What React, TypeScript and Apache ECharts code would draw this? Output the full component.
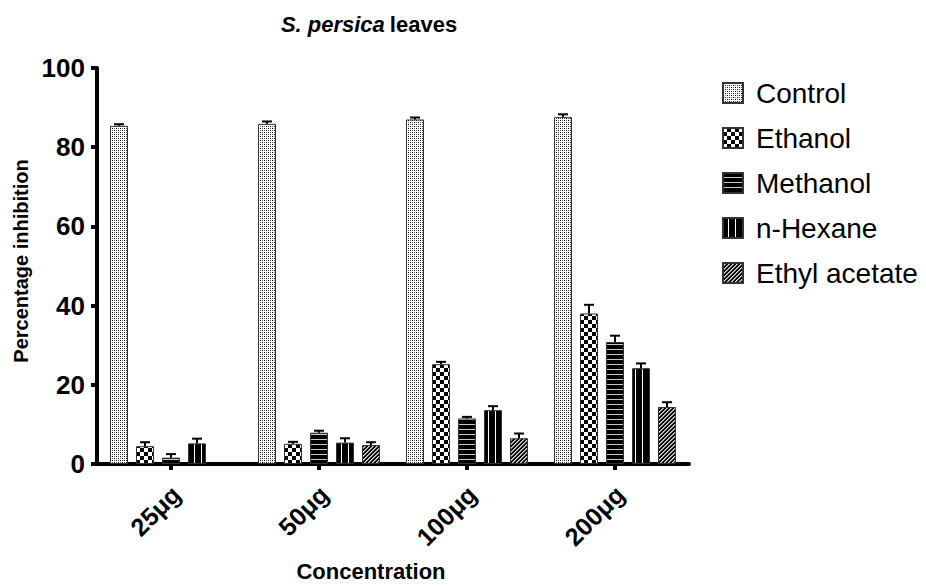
import React, { useEffect, useRef } from "react";
import * as echarts from "echarts";

const categories = ["25μg", "50μg", "100μg", "200μg"];
const seriesNames = ["Control", "Ethanol", "Methanol", "n-Hexane", "Ethyl acetate"];

const controlValues = [85.4, 85.9, 87.0, 87.6];
const controlErr = [0.4, 0.6, 0.5, 0.7];
const ethanolValues = [4.5, 5.1, 25.2, 38.0];
const ethanolErr = [1.0, 0.5, 0.6, 2.2];
const methanolValues = [1.6, 7.9, 11.5, 30.8];
const methanolErr = [0.9, 0.5, 0.4, 1.6];
const hexaneValues = [5.2, 5.4, 13.6, 24.2];
const hexaneErr = [1.2, 1.1, 1.0, 1.2];
const ethylValues: (number | null)[] = [null, 4.8, 6.5, 14.4];
const ethylErr: (number | null)[] = [null, 0.7, 1.2, 1.2];

const yMin = 0;
const yMax = 100;
const yInterval = 20;

const allValues = [controlValues, ethanolValues, methanolValues, hexaneValues, ethylValues];
const allErr = [controlErr, ethanolErr, methanolErr, hexaneErr, ethylErr];

const FONT = '"Liberation Sans", Arial, Helvetica, sans-serif';
const BAR_W = 18;
const BAR_STEP = 26;

type PixFn = (x: number, y: number) => string;

function makeTile(w: number, h: number, fn: PixFn) {
  const c = document.createElement("canvas");
  c.width = w;
  c.height = h;
  const ctx = c.getContext("2d")!;
  for (let y = 0; y < h; y++) {
    for (let x = 0; x < w; x++) {
      ctx.fillStyle = fn(x, y);
      ctx.fillRect(x, y, 1, 1);
    }
  }
  return c;
}

function makeTiles() {
  return [
    // Control: fine stipple
    makeTile(4, 4, (x, y) =>
      (x === 0 && y === 0) || (x === 2 && y === 2) ? "#000" : (x === 2 && y === 0) || (x === 0 && y === 2) ? "#666" : "#fff"
    ),
    // Ethanol: checkerboard
    makeTile(8, 8, (x, y) => (((x >> 2) + (y >> 2)) % 2 === 0 ? "#fff" : "#000")),
    // Methanol: horizontal lines
    makeTile(1, 5, (x, y) => (y === 4 ? "#c8c8c8" : "#000")),
    // n-Hexane: vertical white lines
    makeTile(7, 1, (x) => (x === 5 ? "#fff" : "#000")),
    // Ethyl acetate: diagonal hatch
    makeTile(4, 4, (x, y) => {
      const d = (x + y) % 4;
      return d === 0 || d === 1 ? "#000" : d === 2 ? "#e0e0e0" : "#8a8a8a";
    }),
  ];
}

function pattern(tile: HTMLCanvasElement, x: number, y: number) {
  return {
    image: tile,
    repeat: "repeat",
    imageWidth: tile.width,
    imageHeight: tile.height,
    x,
    y,
  } as any;
}

function buildOption(tiles: HTMLCanvasElement[], barLefts: number[][] | null) {
  const barSeries = seriesNames.map((name, si) => ({
    name,
    type: "bar",
    barWidth: BAR_W,
    barGap: ((BAR_STEP - BAR_W) / BAR_W) * 100 + "%",
    itemStyle: {
      color: pattern(tiles[si], 0, 0),
      borderColor: "#333",
      borderWidth: 1,
    },
    data: allValues[si].map((v, k) =>
      v == null
        ? "-"
        : {
            value: v,
            itemStyle: barLefts ? { color: pattern(tiles[si], barLefts[si][k], 0) } : undefined,
          }
    ),
    z: 2,
  }));

  const errSeries = seriesNames.map((name, si) => ({
    name: "err-" + name,
    type: "custom",
    z: 3,
    renderItem: (params: any, api: any) => {
      const idx = api.value(0);
      const v = api.value(1);
      const e = api.value(2);
      const p0 = api.coord([idx, v]);
      const p1 = api.coord([idx, v + e]);
      const x = Math.round(p0[0]) + (si - 2) * BAR_STEP;
      return {
        type: "group",
        children: [
          { type: "line", shape: { x1: x, y1: p0[1], x2: x, y2: p1[1] }, style: { stroke: "#000", lineWidth: 2 } },
          { type: "line", shape: { x1: x - 5, y1: p1[1], x2: x + 5, y2: p1[1] }, style: { stroke: "#000", lineWidth: 2 } },
        ],
      };
    },
    data: allValues[si]
      .map((v, k) => (v == null ? null : [k, v, allErr[si][k] as number]))
      .filter((d) => d != null),
  }));

  return {
    animation: false,
    backgroundColor: "#fff",
    textStyle: { fontFamily: FONT, color: "#000" },
    title: [
      {
        text: "{i|S. persica} {b|leaves}",
        left: 364,
        top: 8,
        textAlign: "center",
        textStyle: {
          rich: {
            i: { fontFamily: FONT, fontSize: 22, fontWeight: "bold", fontStyle: "italic", color: "#000" },
            b: { fontFamily: FONT, fontSize: 22, fontWeight: "bold", color: "#000" },
          },
        },
      },
      {
        text: "Concentration",
        left: 366,
        top: 555,
        textAlign: "center",
        textStyle: { fontFamily: FONT, fontSize: 22, fontWeight: "bold", color: "#000" },
      },
    ],
    legend: {
      data: seriesNames,
      orient: "vertical",
      left: 717,
      top: 74,
      itemWidth: 20,
      itemHeight: 20,
      itemGap: 17,
      icon: "rect",
      selectedMode: false,
      textStyle: { fontFamily: FONT, fontSize: 28, lineHeight: 28, color: "#000", padding: [0, 0, 0, 8] },
    },
    grid: { left: 97, right: 237, top: 68, bottom: 122, containLabel: false },
    xAxis: {
      type: "category",
      data: categories,
      axisLine: { show: true, lineStyle: { color: "#000", width: 4 } },
      axisTick: { show: true, alignWithLabel: true, length: 6, lineStyle: { color: "#000", width: 4 } },
      axisLabel: {
        rotate: 45,
        margin: 31,
        padding: [0, -7, 0, 0],
        fontFamily: FONT,
        fontSize: 25,
        fontWeight: "bold",
        color: "#000",
      },
      splitLine: { show: false },
    },
    yAxis: {
      type: "value",
      min: yMin,
      max: yMax,
      interval: yInterval,
      name: "Percentage inhibition",
      nameLocation: "middle",
      nameGap: 66,
      nameTextStyle: { fontFamily: FONT, fontSize: 20, fontWeight: "bold", color: "#000", padding: [0, 0, 0, 10] },
      axisLine: { show: true, lineStyle: { color: "#000", width: 4 } },
      axisTick: { show: true, length: 6, lineStyle: { color: "#000", width: 4 } },
      axisLabel: { margin: 12, fontFamily: FONT, fontSize: 26, fontWeight: "bold", color: "#000" },
      splitLine: { show: false },
    },
    series: [...barSeries, ...errSeries],
  };
}

export default function App() {
  const ref = useRef<HTMLDivElement>(null);
  useEffect(() => {
    if (!ref.current) return;
    const chart = echarts.init(ref.current, null, { renderer: "svg" });
    const tiles = makeTiles();
    chart.setOption(buildOption(tiles, null) as any);
    const barLefts = seriesNames.map((_, si) =>
      categories.map((_c, k) => {
        const cx = chart.convertToPixel({ xAxisIndex: 0 }, k) as unknown as number;
        const totalW = seriesNames.length * BAR_STEP - (BAR_STEP - BAR_W);
        return Math.round(cx - totalW / 2 + si * BAR_STEP);
      })
    );
    chart.setOption(buildOption(tiles, barLefts) as any, true);
    return () => chart.dispose();
  }, []);
  return (
    <div
      ref={ref}
      style={{ position: "fixed", left: 0, top: 0, width: 926, height: 586, background: "#fff" }}
    />
  );
}
